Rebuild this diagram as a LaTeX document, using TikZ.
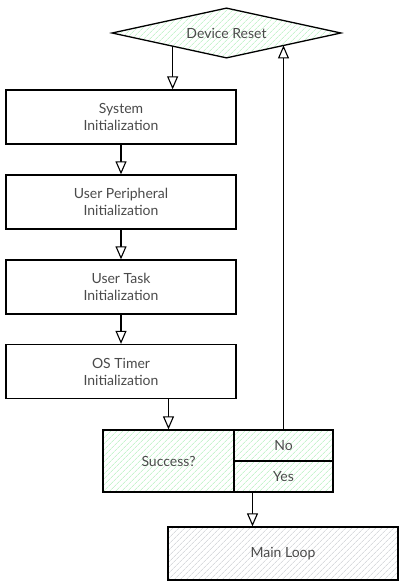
\documentclass[tikz,border=0pt]{standalone}
\usepackage{fontspec}
\setmainfont{Lato}
\usepackage{xcolor}
\usetikzlibrary{arrows.meta,positioning,shapes,shapes.geometric,patterns.meta,calc}

\definecolor{inkgray}{HTML}{4A4A4A}
\definecolor{hatchgreen}{HTML}{A9EEB4}
\definecolor{hatchgray}{HTML}{C4C8CC}

\tikzset{
  stepbox/.style = {draw, line width = 1.3pt, minimum width = 230pt, minimum height = 54pt, align = center, inner sep = 0pt},
  greenhatch/.style = {pattern = {Lines[angle = 45, distance = 4pt, line width = .6pt]}, pattern color = hatchgreen},
  grayhatch/.style = {pattern = {Lines[angle = 45, distance = 4pt, line width = .6pt]}, pattern color = hatchgray},
  flow/.style = {->, line width = 1.1pt},
}

\begin{document}
\begin{tikzpicture}[x = 1pt, y = -1pt, font = \fontsize{14}{17}\selectfont\color{inkgray},
    >={Triangle[open, length = 13pt, width = 11pt, fill = white]}]
  \useasboundingbox (0,0) rectangle (405,585);
  \node[draw, line width = 1.3pt, diamond, greenhatch, minimum width = 229pt, minimum height = 50pt, inner sep = 0pt, aspect = 4.6] (reset) at (226.5,33) {Device Reset};
  \node[stepbox] (sys) at (121,117) {System\\Initialization};
  \node[stepbox] (periph) at (121,202) {User Peripheral\\Initialization};
  \node[stepbox] (task) at (121,287) {User Task\\Initialization};
  \node[stepbox] (timer) at (121,371.5) {OS Timer\\Initialization};
  \node[draw, line width = 1.3pt, greenhatch, minimum width = 131pt, minimum height = 62pt, inner sep = 0pt] (succ) at (168.5,461) {Success?};
  \node[draw, line width = 1.3pt, greenhatch, minimum width = 99pt, minimum height = 31pt, inner sep = 0pt] (no) at (283.5,445.5) {No};
  \node[draw, line width = 1.3pt, greenhatch, minimum width = 99pt, minimum height = 31pt, inner sep = 0pt] (yes) at (283.5,476.5) {Yes};
  \node[stepbox, grayhatch, minimum height = 53pt] (main) at (283,553.5) {Main Loop};
  \draw[flow] (reset.194) -- (reset.194 |- sys.north);
  \draw[flow] (sys) -- (periph);
  \draw[flow] (periph) -- (task);
  \draw[flow] (task) -- (timer);
  \draw[flow] (succ.north |- timer.south) -- (succ.north);
  \draw[flow] (no.north) -- (no.north |- reset.-12.5);
  \draw[flow] ([xshift = -31pt]yes.south) -- ([xshift = -31pt]yes.south |- main.north);
\end{tikzpicture}
\end{document}
